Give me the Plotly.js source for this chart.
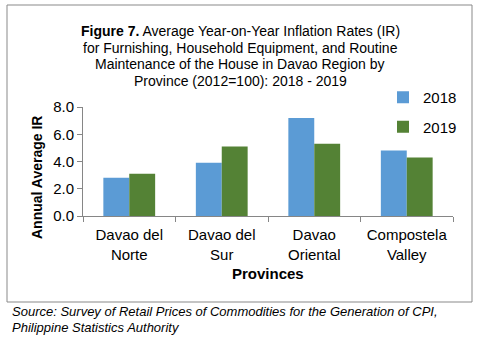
<!DOCTYPE html>
<html>
<head>
<meta charset="utf-8">
<script src="https://cdn.plot.ly/plotly-3.0.1.min.js"></script>
<style>html,body{margin:0;padding:0;background:#fff;}#chart{width:484px;height:347px;}</style>
</head>
<body>
<div id="chart"></div>
<script>
const provinces = ["Davao del<br>Norte", "Davao del<br>Sur", "Davao<br>Oriental", "Compostela<br>Valley"];
const ir2018 = [2.8, 3.9, 7.2, 4.8];
const ir2019 = [3.1, 5.1, 5.3, 4.3];
const seriesNames = ["2018", "2019"];
const yTicks = [0, 2, 4, 6, 8];
const titleLines = [
  "<b>Figure 7.</b> Average Year-on-Year Inflation Rates (IR)",
  "for Furnishing, Household Equipment, and Routine",
  "Maintenance of the House in Davao Region by",
  "Province (2012=100): 2018 - 2019"
];
const sourceLines = [
  "Source: Survey of Retail Prices of Commodities for the Generation of CPI,",
  "Philippine Statistics Authority"
];

const W = 484, H = 347;
const M = {l: 83, r: 31, t: 107, b: 131};
const pw = W - M.l - M.r, ph = H - M.t - M.b;
const px = x => (x - M.l) / pw;
const py = y => (H - M.b - y) / ph;

const FONT = "Liberation Sans, Arial, sans-serif";

const traces = [
  {type: "bar", x: provinces, y: ir2018, name: seriesNames[0], marker: {color: "#5B9BD5"}, legendgroup: "a"},
  {type: "bar", x: provinces, y: ir2019, name: seriesNames[1], marker: {color: "#548235"}, legendgroup: "b"}
];

const annotations = [];
const titleY = [31, 47.5, 64, 80.5, 97];
titleLines.forEach((t, i) => annotations.push({
  text: t, xref: "paper", yref: "paper", x: px(240), y: py(titleY[i]),
  xanchor: "center", yanchor: "middle", showarrow: false,
  font: {family: FONT, size: 14, color: "#000"}
}));
annotations.push({
  text: "<b>Annual Average IR</b>", xref: "paper", yref: "paper",
  x: px(37), y: py(178), textangle: -90, xanchor: "center", yanchor: "middle",
  showarrow: false, font: {family: FONT, size: 14, color: "#000"}
});
annotations.push({
  text: "<b>Provinces</b>", xref: "paper", yref: "paper",
  x: px(268), y: py(273), xanchor: "center", yanchor: "middle",
  showarrow: false, font: {family: FONT, size: 15, color: "#000"}
});
const srcY = [311, 327];
sourceLines.forEach((t, i) => annotations.push({
  text: "<i>" + t + "</i>", xref: "paper", yref: "paper", x: px(10), y: py(srcY[i]),
  xanchor: "left", yanchor: "middle", showarrow: false,
  font: {family: FONT, size: 13, color: "#000"}
}));

const layout = {
  width: W, height: H,
  margin: M,
  paper_bgcolor: "#fff", plot_bgcolor: "#fff",
  font: {family: FONT, size: 15, color: "#000"},
  barmode: "group", bargap: 0.44, bargroupgap: 0,
  showlegend: true,
  legend: {
    x: px(383), y: py(81), xanchor: "left", yanchor: "top",
    font: {family: FONT, size: 15, color: "#000"},
    traceorder: "grouped", tracegroupgap: 7, itemwidth: 30,
    bgcolor: "rgba(0,0,0,0)"
  },
  xaxis: {
    type: "category", showline: true, linecolor: "#868686", linewidth: 1,
    ticks: "outside", tickson: "boundaries", ticklen: 5, tickcolor: "#868686",
    ticklabelstandoff: 5,
    showgrid: false, zeroline: false, automargin: false,
    tickfont: {family: FONT, size: 15, color: "#000"}
  },
  yaxis: {
    range: [0, 8], tickvals: yTicks, tickformat: ".1f",
    showline: true, linecolor: "#868686", linewidth: 1,
    ticks: "outside", ticklen: 5, tickcolor: "#868686",
    showgrid: false, zeroline: false, automargin: false,
    tickfont: {family: FONT, size: 15, color: "#000"}
  },
  annotations: annotations,
  shapes: [{
    type: "rect", xref: "paper", yref: "paper",
    x0: px(7), x1: px(472), y0: py(302), y1: py(5),
    line: {color: "#898989", width: 1}, fillcolor: "rgba(0,0,0,0)", layer: "below"
  }]
};

Plotly.newPlot("chart", traces, layout, {displayModeBar: false, staticPlot: true});
</script>
</body>
</html>
